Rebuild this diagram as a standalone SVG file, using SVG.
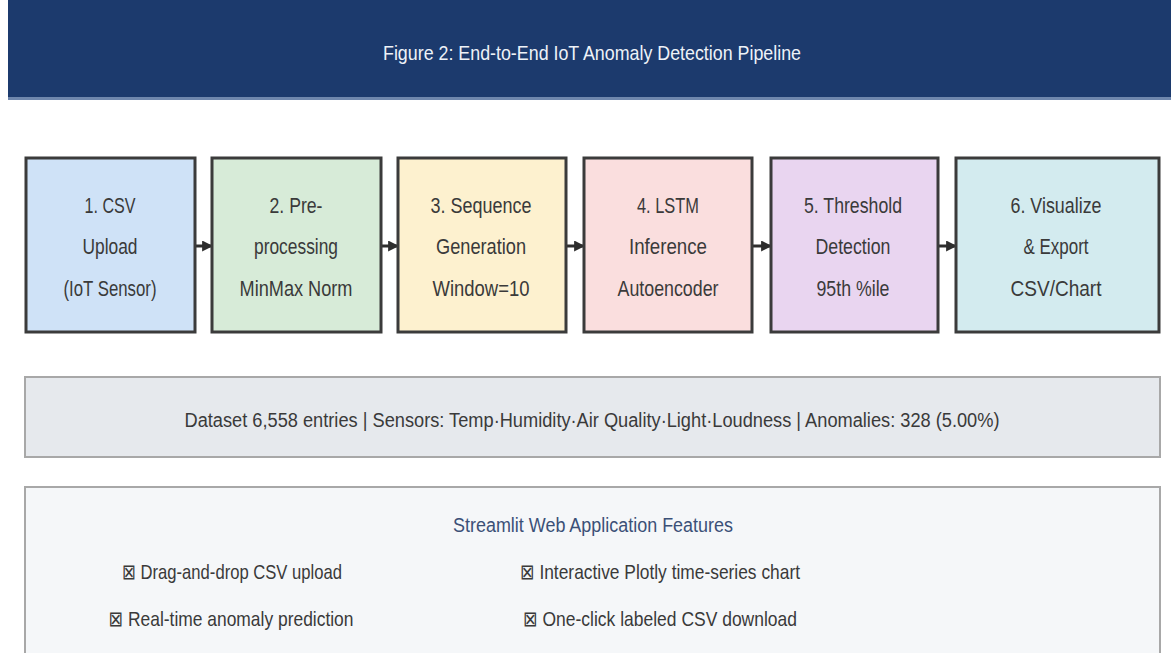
<svg xmlns="http://www.w3.org/2000/svg" width="1171" height="653" viewBox="0 0 1171 653">
<defs>
<style>
.t{font-family:"Liberation Sans","DejaVu Sans",sans-serif;text-anchor:middle}
.box{stroke:#3b3b3b;stroke-width:3}
.bt{font-size:22px;fill:#3a3a3a}
.bul{font-size:21px;fill:#3a3a3a}
</style>
<marker id="ah" viewBox="0 0 10 10" refX="9" refY="5" markerWidth="11" markerHeight="11" markerUnits="userSpaceOnUse" orient="auto">
<path d="M0,0 L10,5 L0,10 z" fill="#2e2e2e"/>
</marker>
</defs>
<rect width="1171" height="653" fill="#ffffff"/>
<g id="header">
<rect x="8" y="0" width="1163" height="98" fill="#1c3a6d"/>
<rect x="8" y="97" width="1163" height="3" fill="#6f87ad"/>
<text class="t" x="592" y="60" font-size="21" fill="#eef2f8" textLength="418" lengthAdjust="spacingAndGlyphs">Figure 2: End-to-End IoT Anomaly Detection Pipeline</text>
</g>
<g id="connectors">
<line x1="195" y1="246" x2="212" y2="246" stroke="#2e2e2e" stroke-width="3" marker-end="url(#ah)"/>
<line x1="381" y1="246" x2="398" y2="246" stroke="#2e2e2e" stroke-width="3" marker-end="url(#ah)"/>
<line x1="566" y1="246" x2="584" y2="246" stroke="#2e2e2e" stroke-width="3" marker-end="url(#ah)"/>
<line x1="752" y1="246" x2="771" y2="246" stroke="#2e2e2e" stroke-width="3" marker-end="url(#ah)"/>
<line x1="938" y1="246" x2="956" y2="246" stroke="#2e2e2e" stroke-width="3" marker-end="url(#ah)"/>
</g>
<g id="node1">
<rect class="box" x="26" y="158" width="169" height="174" fill="#cfe2f7"/>
<text class="t bt" x="110" y="213" textLength="51" lengthAdjust="spacingAndGlyphs">1. CSV</text>
<text class="t bt" x="110" y="254" textLength="55" lengthAdjust="spacingAndGlyphs">Upload</text>
<text class="t bt" x="110" y="296" textLength="93" lengthAdjust="spacingAndGlyphs">(IoT Sensor)</text>
</g>
<g id="node2">
<rect class="box" x="212" y="158" width="169" height="174" fill="#d7ebd8"/>
<text class="t bt" x="296" y="213" textLength="53" lengthAdjust="spacingAndGlyphs">2. Pre-</text>
<text class="t bt" x="296" y="254" textLength="84" lengthAdjust="spacingAndGlyphs">processing</text>
<text class="t bt" x="296" y="296" textLength="113" lengthAdjust="spacingAndGlyphs">MinMax Norm</text>
</g>
<g id="node3">
<rect class="box" x="398" y="158" width="168" height="174" fill="#fdf1cf"/>
<text class="t bt" x="481" y="213" textLength="101" lengthAdjust="spacingAndGlyphs">3. Sequence</text>
<text class="t bt" x="481" y="254" textLength="90" lengthAdjust="spacingAndGlyphs">Generation</text>
<text class="t bt" x="481" y="296" textLength="97" lengthAdjust="spacingAndGlyphs">Window=10</text>
</g>
<g id="node4">
<rect class="box" x="584" y="158" width="168" height="174" fill="#fadede"/>
<text class="t bt" x="668" y="213" textLength="62" lengthAdjust="spacingAndGlyphs">4. LSTM</text>
<text class="t bt" x="668" y="254" textLength="78" lengthAdjust="spacingAndGlyphs">Inference</text>
<text class="t bt" x="668" y="296" textLength="101" lengthAdjust="spacingAndGlyphs">Autoencoder</text>
</g>
<g id="node5">
<rect class="box" x="771" y="158" width="167" height="174" fill="#e9d5f0"/>
<text class="t bt" x="853" y="213" textLength="98" lengthAdjust="spacingAndGlyphs">5. Threshold</text>
<text class="t bt" x="853" y="254" textLength="75" lengthAdjust="spacingAndGlyphs">Detection</text>
<text class="t bt" x="853" y="296" textLength="73" lengthAdjust="spacingAndGlyphs">95th %ile</text>
</g>
<g id="node6">
<rect class="box" x="956" y="158" width="203" height="174" fill="#d3ebef"/>
<text class="t bt" x="1056" y="213" textLength="91" lengthAdjust="spacingAndGlyphs">6. Visualize</text>
<text class="t bt" x="1056" y="254" textLength="65" lengthAdjust="spacingAndGlyphs">&amp; Export</text>
<text class="t bt" x="1056" y="296" textLength="91" lengthAdjust="spacingAndGlyphs">CSV/Chart</text>
</g>
<g id="stats">
<rect x="25" y="377" width="1135" height="80" fill="#e6e9ed" stroke="#a8a8a8" stroke-width="2"/>
<text class="t" x="592" y="427" font-size="20" fill="#3a3a3a" textLength="815" lengthAdjust="spacingAndGlyphs">Dataset 6,558 entries | Sensors: Temp·Humidity·Air Quality·Light·Loudness | Anomalies: 328 (5.00%)</text>
</g>
<g id="features">
<rect x="25" y="487" width="1135" height="175" fill="#f5f7f9" stroke="#a8a8a8" stroke-width="2"/>
<text class="t" x="593" y="532" font-size="20" fill="#3b5077" textLength="280" lengthAdjust="spacingAndGlyphs">Streamlit Web Application Features</text>
<text class="t bul" x="232" y="579" textLength="220" lengthAdjust="spacingAndGlyphs">⊠ Drag-and-drop CSV upload</text>
<text class="t bul" x="231" y="626" textLength="245" lengthAdjust="spacingAndGlyphs">⊠ Real-time anomaly prediction</text>
<text class="t bul" x="660" y="579" textLength="280" lengthAdjust="spacingAndGlyphs">⊠ Interactive Plotly time-series chart</text>
<text class="t bul" x="660" y="626" textLength="274" lengthAdjust="spacingAndGlyphs">⊠ One-click labeled CSV download</text>
</g>
</svg>
